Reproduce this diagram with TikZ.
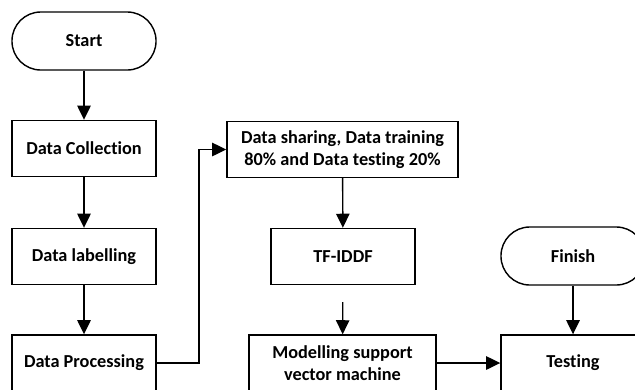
\documentclass[tikz,border=0pt]{standalone}
\usepackage{fontspec}
\setmainfont[Ligatures=NoCommon]{Carlito}
\usepackage{tikz}
\usetikzlibrary{arrows.meta, positioning, calc}
\tikzset{
  stepbox/.style={draw, line width=1pt, minimum width=3.6cm, minimum height=1.4cm,
                  font=\fontsize{13}{15.6}\selectfont\bfseries, align=center},
  terminal/.style={draw, line width=1pt, rounded corners=0.72cm, minimum width=3.6cm,
                   minimum height=1.45cm, font=\fontsize{13}{15.6}\selectfont\bfseries},
  arrow/.style={-{Triangle[length=10pt, width=9.5pt]}, line width=1pt},
}

\begin{document}
\begin{tikzpicture}[x=0.025cm, y=-0.025cm]
  \useasboundingbox (0,0) rectangle (635,389);
  % left column
  \node[terminal] (start) at (84,41) {Start};
  \node[stepbox] (collect) at (84,148.5) {Data Collection};
  \node[stepbox] (labelling) at (84,256.5) {Data labelling};
  \node[stepbox] (process) at (84,363) {Data Processing};
  % middle column
  \node[stepbox, minimum width=5.775cm] (share) at (342.5,149.5)
    {Data sharing, Data training\\80\% and Data testing 20\%};
  \node[stepbox] (tfidf) at (343,256.5) {TF-IDDF};
  \node[stepbox, minimum width=4.675cm] (model) at (342.5,363)
    {Modelling support\\vector machine};
  % right column
  \node[terminal] (finish) at (573,256) {Finish};
  \node[stepbox] (testing) at (573,363) {Testing};

  \coordinate (turn) at (199,363);

  \draw[arrow] (start) -- (collect);
  \draw[arrow] (collect) -- (labelling);
  \draw[arrow] (labelling) -- (process);
  \draw[arrow] (process.east) -- (turn) |- (share.west);
  \draw[arrow] (share) -- (tfidf);
  \draw[arrow, shorten <=0.42cm] (tfidf) -- (model);
  \draw[arrow] (model) -- (testing);
  \draw[arrow] (finish) -- (testing);
\end{tikzpicture}
\end{document}
